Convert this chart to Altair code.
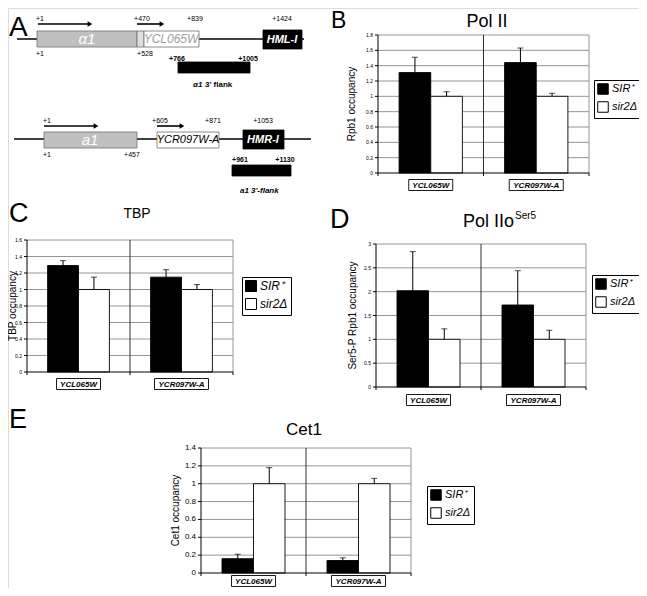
import altair as alt
import pandas as pd

W, H = 631, 580          # drawing area (page minus the 8px margins)
M = 8                    # page margin
FONT = "Liberation Sans"

# ---------------------------------------------------------------- data
GENES = ["YCL065W", "YCR097W-A"]
STRAINS = ["SIR⁺", "sir2Δ"]
STRAIN_COLORS = ["black", "white"]

# order: YCL065W SIR+, YCL065W sir2Δ, YCR097W-A SIR+, YCR097W-A sir2Δ
polII_mean = [1.31, 1.00, 1.44, 1.00]
polII_err = [0.20, 0.06, 0.19, 0.04]
tbp_mean = [1.29, 1.00, 1.15, 1.00]
tbp_err = [0.06, 0.15, 0.09, 0.06]
ser5_mean = [2.02, 1.00, 1.72, 1.00]
ser5_err = [0.82, 0.22, 0.72, 0.19]
cet1_mean = [0.16, 1.00, 0.14, 1.00]
cet1_err = [0.05, 0.18, 0.03, 0.06]

polII_ticks = [0, 0.2, 0.4, 0.6, 0.8, 1, 1.2, 1.4, 1.6, 1.8]
tbp_ticks = [0, 0.2, 0.4, 0.6, 0.8, 1, 1.2, 1.4, 1.6]
ser5_ticks = [0, 0.5, 1, 1.5, 2, 2.5, 3]
cet1_ticks = [0, 0.2, 0.4, 0.6, 0.8, 1, 1.2, 1.4]

# ---- panel A schematic (diagram coordinates)
track_x0 = [17, 14]
track_x1 = [304, 311]
track_y = [39, 139]

gray_boxes = {"x0": [37, 44], "x1": [137, 137], "y0": [31, 132], "y1": [47, 148]}
light_boxes = {"x0": [137], "x1": [144], "y0": [31], "y1": [47]}
white_boxes = {"x0": [144, 157], "x1": [199, 219], "y0": [31, 132], "y1": [47, 148]}
black_boxes = {"x0": [263, 243, 178, 232], "x1": [302, 284, 250, 291],
               "y0": [30, 130, 62, 165], "y1": [49, 149, 73, 176]}

arrow_x0 = [38, 137, 44, 157]
arrow_x1 = [90, 162, 96, 182]
arrow_y = [24, 24, 126, 126]

pos_labels = ["+1", "+470", "+839", "+1424", "+1", "+528",
              "+1", "+605", "+871", "+1053", "+1", "+457"]
pos_x = [40, 142, 195, 282, 40, 145, 47, 160, 213, 263, 47, 132]
pos_y = [21, 21, 21, 21, 56, 56, 123, 123, 123, 123, 157, 157]

flank_pos_labels = ["+766", "+1005", "+961", "+1130"]
flank_pos_x = [177, 248, 240, 285]
flank_pos_y = [61, 61, 162, 162]

# ---------------------------------------------------------------- panel A
ax = alt.Scale(domain=[M, M + W], range=[0, W], nice=False, zero=False)
ay = alt.Scale(domain=[M, M + H], range=[0, H], nice=False, zero=False)


def AX(f):
    return alt.X(f, type="quantitative", scale=ax, axis=None)


def AY(f):
    return alt.Y(f, type="quantitative", scale=ay, axis=None)


tracks = alt.Chart(pd.DataFrame({"x0": track_x0, "x1": track_x1, "y": track_y})).mark_rule(
    color="black", strokeWidth=1.6).encode(x=AX("x0"), x2="x1", y=AY("y"))


def boxes(d, fill, stroke, sw=0.8):
    return alt.Chart(pd.DataFrame(d)).mark_rect(fill=fill, stroke=stroke, strokeWidth=sw).encode(
        x=AX("x0"), x2="x1", y=AY("y0"), y2="y1")


arrows = alt.Chart(pd.DataFrame({"x0": arrow_x0, "x1": arrow_x1, "y": arrow_y})).mark_rule(
    color="black", strokeWidth=1.6).encode(x=AX("x0"), x2="x1", y=AY("y"))
heads = alt.Chart(pd.DataFrame({"x": arrow_x1, "y": arrow_y})).mark_point(
    shape="triangle-right", filled=True, size=30, color="black", opacity=1).encode(x=AX("x"), y=AY("y"))

posnum = alt.Chart(pd.DataFrame({"t": pos_labels, "x": pos_x, "y": pos_y})).mark_text(
    fontSize=7, color="black", align="center", baseline="alphabetic").encode(x=AX("x"), y=AY("y"), text="t:N")
flanknum = alt.Chart(pd.DataFrame({"t": flank_pos_labels, "x": flank_pos_x, "y": flank_pos_y})).mark_text(
    fontSize=7, fontWeight="bold", color="black", align="center", baseline="alphabetic").encode(
    x=AX("x"), y=AY("y"), text="t:N")


def label(t, x, y, **kw):
    return alt.Chart(pd.DataFrame({"t": [t], "x": [x], "y": [y]})).mark_text(**kw).encode(
        x=AX("x"), y=AY("y"), text="t:N")


gene_labels = [
    label("α1", 87, 39, fontSize=15, fontStyle="italic", color="white", baseline="middle"),
    label("YCL065W", 171, 39, fontSize=12, fontStyle="italic", color="#a0a0a0", baseline="middle"),
    label("HML-I", 282, 40, fontSize=11, fontStyle="italic", fontWeight="bold", color="white", baseline="middle"),
    label("a1", 90, 140, fontSize=15, fontStyle="italic", color="white", baseline="middle"),
    label("YCR097W-A", 188, 140, fontSize=11, fontStyle="italic", color="black", baseline="middle"),
    label("HMR-I", 263, 140, fontSize=11, fontStyle="italic", fontWeight="bold", color="white", baseline="middle"),
    label("α1", 193, 85, fontSize=8, fontStyle="italic", fontWeight="bold", align="left", color="black"),
    label("3' flank", 205, 85, fontSize=8, fontWeight="bold", align="left", color="black"),
    label("a1", 240, 191, fontSize=8, fontStyle="italic", fontWeight="bold", align="left", color="black"),
    label("3'-flank", 251, 191, fontSize=8, fontStyle="italic", fontWeight="bold", align="left", color="black"),
    label("A", 9, 28, fontSize=28, align="left", color="black"),
]

panelA = alt.layer(
    tracks,
    boxes(gray_boxes, "#c0c0c0", "#707070"),
    boxes(light_boxes, "#dedede", "#707070"),
    boxes(white_boxes, "white", "#707070"),
    boxes(black_boxes, "black", "black"),
    arrows, heads, posnum, flanknum, *gene_labels,
)


# ---------------------------------------------------------------- bar panels
def bar_panel(means, errs, ticks, frame, ytitle, ytitle_x, tick_fs, titles, letter,
              legend_xy, legend_fs, legend_sym, label_y):
    left, top, right, bottom = frame
    ymax = ticks[-1]
    xs = alt.Scale(domain=[0, 2], range=[left - M, right - M], nice=False, zero=False)
    ys = alt.Scale(domain=[0, ymax], range=[bottom - M, top - M], nice=False, zero=False)
    pxu = (right - left) / 2.0

    def X(f):
        return alt.X(f, type="quantitative", scale=xs, axis=None)

    def Y(f):
        return alt.Y(f, type="quantitative", scale=ys, axis=None)

    rows = []
    for gi, g in enumerate(GENES):
        for si, s in enumerate(STRAINS):
            k = gi * 2 + si
            x0 = gi + 0.2 + 0.3 * si
            rows.append(dict(gene=g, strain=s, x0=x0, x1=x0 + 0.3, xc=x0 + 0.15,
                             mean=means[k], top=means[k] + errs[k], base=0))
    bars_df = pd.DataFrame(rows)
    tick_df = pd.DataFrame({"v": ticks, "lab": [f"{t:g}" for t in ticks],
                            "x0": [0] * len(ticks), "x1": [2] * len(ticks)})
    grid_df = tick_df[tick_df["v"] > 0]
    vert_df = pd.DataFrame({"x": [0, 1, 2], "y0": [0, 0, 0], "y1": [ymax] * 3})

    grid = alt.Chart(grid_df).mark_rule(color="#8a8a8a", strokeWidth=0.9).encode(
        x=X("x0"), x2="x1:Q", y=Y("v"))
    rborder = alt.Chart(vert_df[vert_df["x"] == 2]).mark_rule(color="#8a8a8a", strokeWidth=0.9).encode(
        x=X("x"), y=Y("y0"), y2="y1:Q")
    sep = alt.Chart(vert_df[vert_df["x"] == 1]).mark_rule(color="#303030", strokeWidth=1).encode(
        x=X("x"), y=Y("y0"), y2="y1:Q")

    bars = alt.Chart(bars_df).mark_rect(stroke="black", strokeWidth=0.9).encode(
        x=X("x0"), x2="x1:Q", y=Y("mean"), y2="base:Q",
        color=alt.Color("strain:N", scale=alt.Scale(domain=STRAINS, range=STRAIN_COLORS),
                        legend=alt.Legend(
                            orient="none", legendX=legend_xy[0] - M, legendY=legend_xy[1] - M,
                            title=None, strokeColor="black", fillColor="white", padding=3,
                            symbolType="square", symbolSize=legend_sym, symbolStrokeColor="black",
                            symbolStrokeWidth=1, labelFontSize=legend_fs, labelFontStyle="italic",
                            labelColor="black", labelOffset=3, rowPadding=2)),
    )
    err = alt.Chart(bars_df).mark_rule(color="black", strokeWidth=1).encode(
        x=X("xc"), y=Y("mean"), y2="top:Q")
    cap = alt.Chart(bars_df).mark_tick(orient="horizontal", size=6, thickness=1, color="black").encode(
        x=X("xc"), y=Y("top"))

    # axes drawn through the panel's scales
    yline = alt.Chart(vert_df[vert_df["x"] == 0]).mark_rule(color="black", strokeWidth=1).encode(
        x=X("x"), y=Y("y0"), y2="y1:Q")
    yticks = alt.Chart(tick_df).mark_rule(color="black", strokeWidth=1, xOffset=-3, x2Offset=0).encode(
        x=X("x0"), x2="x0:Q", y=Y("v"))
    ylabels = alt.Chart(tick_df).mark_text(align="right", baseline="middle", dx=-5, fontSize=tick_fs,
                                           color="black").encode(x=X("x0"), y=Y("v"), text="lab:N")
    xline = alt.Chart(tick_df.head(1)).mark_rule(color="black", strokeWidth=1).encode(
        x=X("x0"), x2="x1:Q", y=Y("v"))
    xticks = alt.Chart(vert_df).mark_rule(color="black", strokeWidth=1, y2Offset=3).encode(
        x=X("x"), y=Y("y0"), y2="y0:Q")
    ytitle_l = alt.Chart(pd.DataFrame({"t": [ytitle]})).mark_text(
        angle=270, fontSize=10, baseline="middle", color="black").encode(
        x=alt.value(ytitle_x - M), y=alt.value((top + bottom) / 2 - M), text="t:N")

    box_w = [44, 54]
    lab_df = pd.DataFrame({
        "gene": GENES,
        "xc": [0.5, 1.5],
        "bx0": [0.5 + i - box_w[i] / 2 / pxu for i in range(2)],
        "bx1": [0.5 + i + box_w[i] / 2 / pxu for i in range(2)],
    })
    lab_box = alt.Chart(lab_df).mark_rect(fill="white", stroke="black", strokeWidth=0.9).encode(
        x=X("bx0"), x2="bx1:Q",
        y=alt.value(label_y - M - 5.5), y2=alt.value(label_y - M + 5.5))
    lab_txt = alt.Chart(lab_df).mark_text(fontSize=8, fontStyle="italic", fontWeight="bold",
                                          baseline="middle", color="black").encode(
        x=X("xc"), y=alt.value(label_y - M + 0.5), text="gene:N")

    texts = []
    for (t, x, y, fs, al) in titles + [letter]:
        texts.append(alt.Chart(pd.DataFrame({"t": [t]})).mark_text(
            fontSize=fs, align=al, baseline="alphabetic", color="black").encode(
            x=alt.value(x - M), y=alt.value(y - M), text="t:N"))

    return alt.layer(grid, rborder, sep, bars, err, cap, yline, yticks, ylabels, xline, xticks,
                     ytitle_l, lab_box, lab_txt, *texts)


panelB = bar_panel(polII_mean, polII_err, polII_ticks, (378, 35, 589, 173), "Rpb1 occupancy", 352, 5,
                   [("Pol II", 487, 27, 18, "center")], ("B", 331, 28, 23, "left"),
                   (594, 80), 11, 110, 185)
panelC = bar_panel(tbp_mean, tbp_err, tbp_ticks, (27, 240, 233, 372), "TBP occupancy", 13, 5,
                   [("TBP", 137, 218, 14, "center")], ("C", 9, 222, 27, "left"),
                   (242, 277), 12, 121, 384)
panelD = bar_panel(ser5_mean, ser5_err, ser5_ticks, (376, 244, 586, 387), "Ser5-P Rpb1 occupancy", 353, 5,
                   [("Pol IIo", 463, 227, 18, "left"), ("Ser5", 515, 219, 10, "left")],
                   ("D", 330, 228, 27, "left"), (592, 275), 11, 110, 400)
panelE = bar_panel(cet1_mean, cet1_err, cet1_ticks, (201, 448, 411, 573), "Cet1 occupancy", 176, 8,
                   [("Cet1", 304, 435, 17, "center")], ("E", 9, 428, 27, "left"),
                   (427, 486), 11, 110, 581)

chart = alt.layer(panelA, panelB, panelC, panelD, panelE).resolve_scale(
    x="independent", y="independent", color="independent"
).resolve_legend(color="independent").properties(
    width=W, height=H, padding=0, autosize="none"
).configure_view(stroke=None).configure(font=FONT)

chart.save("out.html", embed_options={"renderer": "svg", "actions": False})
